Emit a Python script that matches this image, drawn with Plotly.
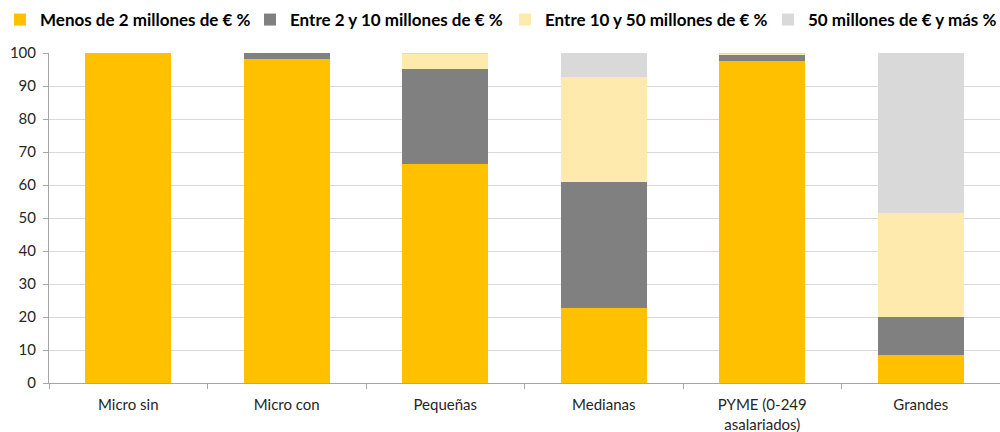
import plotly.graph_objects as go

categories = ["Micro sin", "Micro con", "Pequeñas", "Medianas", "PYME (0-249<br>asalariados)", "Grandes"]
series_names = ["Menos de 2 millones de € %", "Entre 2 y 10 millones de € %",
                "Entre 10 y 50 millones de € %", "50 millones de € y más %"]
menos_2 = [100.0, 98.2, 66.4, 22.7, 97.5, 8.5]
entre_2_10 = [0.0, 1.8, 28.8, 38.2, 1.9, 11.5]
entre_10_50 = [0.0, 0.0, 4.5, 31.8, 0.5, 31.5]
mas_50 = [0.0, 0.0, 0.3, 7.3, 0.1, 48.5]
colors = ["#FFC000", "#808080", "#FFEAAD", "#D9D9D9"]
legend_ids = ["legend", "legend2", "legend3", "legend4"]
legend_x = [0.0, 0.250, 0.505, 0.768]

fig = go.Figure()
for name, vals, col, lid in zip(series_names, [menos_2, entre_2_10, entre_10_50, mas_50], colors, legend_ids):
    fig.add_trace(go.Bar(x=categories, y=vals, name=name, legend=lid, showlegend=True,
                         marker=dict(color=col, line=dict(width=0))))

legend_style = dict(orientation="h", xref="container", yref="container", y=1 - 20 / 432,
                    xanchor="left", yanchor="middle", bgcolor="rgba(0,0,0,0)",
                    font=dict(size=17, color="#000000", family="Lato", weight="bold"),
                    itemwidth=30)
legends = {lid: dict(legend_style, x=lx) for lid, lx in zip(legend_ids, legend_x)}

fig.update_layout(
    showlegend=True,
    barmode="stack",
    bargap=0.46,
    width=1000, height=432,
    margin=dict(l=49, r=0, t=53, b=49, autoexpand=False),
    plot_bgcolor="white", paper_bgcolor="white",
    font=dict(family="Lato", size=15, color="#262626"),
    xaxis=dict(showline=True, linecolor="#A6A6A6", linewidth=1, ticks="outside",
               tickson="boundaries", tickcolor="#A6A6A6", ticklen=5, automargin=False,
               ticklabelstandoff=8, tickfont=dict(size=15, color="#262626")),
    yaxis=dict(range=[0, 100], dtick=10, showgrid=True, gridcolor="#D9D9D9", gridwidth=1,
               showline=True, linecolor="#A6A6A6", ticks="outside", tickcolor="#A6A6A6", ticklen=5,
               automargin=False, ticklabelstandoff=4, tickfont=dict(size=15, color="#262626"),
               zeroline=False),
    **legends,
)
fig.write_html("out.html", config={"displayModeBar": False},
               post_script="document.body.style.margin='0';document.body.style.overflow='hidden';")
